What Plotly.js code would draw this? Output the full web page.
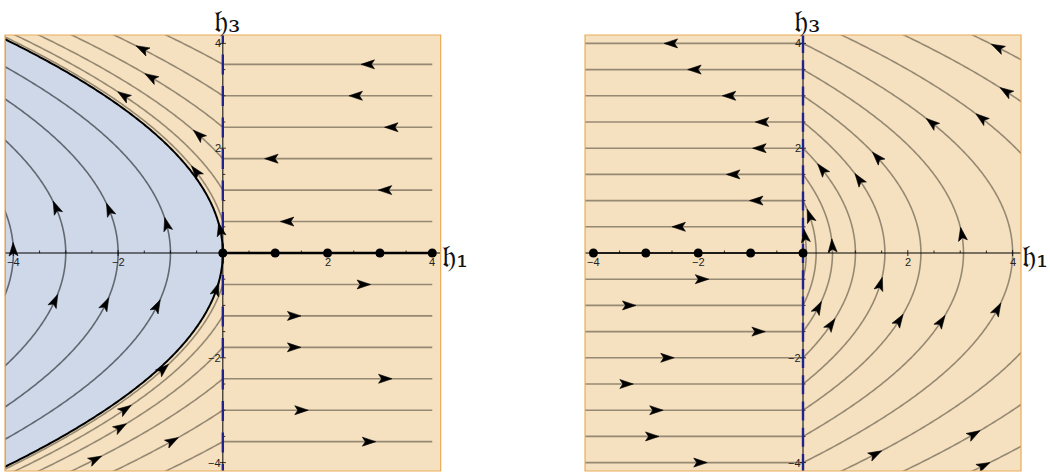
<!DOCTYPE html>
<html>
<head>
<meta charset="utf-8">
<script src="https://cdn.plot.ly/plotly-3.0.1.min.js"></script>
<style>
  html, body { margin: 0; padding: 0; background: #fff; }
  #chart { width: 1050px; height: 473px; }
</style>
</head>
<body>
<div id="chart"></div>
<script>
// Two phase portraits in the (h1, h3) plane.
// Streamlines are the parabolas x = (y0^2 - y^2)/4 and the rows y = y0.

const RANGE = [-4.16, 4.16];

// ---- left panel ----
const leftRows = [3.6, 3.0, 2.4, 1.8, 1.2, 0.6, -0.6, -1.2, -1.8, -2.4, -3.0, -3.6];
const leftRowArrowX = [2.78, 2.55, 3.23, 0.94, 3.11, 1.24, 2.68, 1.35, 1.35, 3.09, 1.49, 2.78];
const leftRowEnd = 4;
const leftInnerVertex = [-1, -2, -3, -4];           // x = c - y^2/4 inside the shaded region
const leftCurveArrows = [                           // [row y0 the arc continues, y]
  [3.0, 3.89], [2.4, 3.35], [1.2, 3.0], [1.8, 2.25], [0.6, 1.55],
  [1.2, -2.985], [1.8, -3.33], [2.4, -3.94], [3.0, -3.59], [0.6, -2.22]
];
const leftBoundaryArrowY = [0.44, -0.70];
const leftInnerArrows = [                           // [c, y]
  [-4, 0.06], [-3, 0.86], [-2, 0.82], [-1, 0.54], [-3, -0.92], [-2, -0.98], [-1, -1.02]
];
const leftFixedX = [0, 1, 2, 3, 4];

// ---- right panel ----
const rightRows = [4.0, 3.5, 3.0, 2.5, 2.0, 1.5, 1.0, 0.5, -0.5, -1.0, -1.5, -2.0, -2.5, -3.0, -3.5, -4.0];
const rightRowArrowX = [-2.51, -2.06, -1.40, -0.77, -0.82, -1.32, -0.88, -2.36,
                        -1.94, -3.33, -0.86, -2.60, -3.38, -2.81, -2.89, -1.97];
const rightArcs = [0.5, 1.0, 1.5, 2.0, 2.5, 3.0, 3.5, 4.0, 4.5, 5.0, 5.5];
const rightArcArrows = [                            // [y0, y]
  [5.5, 3.92], [5.0, 3.08], [4.5, 2.57], [4.0, 2.48], [3.0, 1.82], [2.5, 1.40], [2.0, 1.59],
  [1.0, 0.70], [0.5, 0.32], [1.5, 0.13], [3.5, 0.35],
  [2.5, -0.60], [1.5, -1.05], [2.0, -1.37], [3.0, -1.29], [3.5, -1.31], [4.0, -1.08],
  [4.5, -3.84], [5.0, -3.46], [5.5, -4.06]
];
const rightFixedX = [-4, -3, -2, -1, 0];

// ---- axes decoration ----
const majorTicks = [-4, -2, 2, 4];
const majorLabels = ['\u22124', '\u22122', '2', '4'];
const minorTicks = [-3.5, -3, -2.5, -1.5, -1, -0.5, 0.5, 1, 1.5, 2.5, 3, 3.5];
const axisNames = { horizontal: '\u{1D525}\u2081', vertical: '\u{1D525}\u2083' };

// ---- colours ----
const TAN = 'rgb(245,225,191)';
const BLUE = 'rgb(206,216,232)';
const FRAME = 'rgb(233,172,88)';
const STREAM = 'rgb(150,137,115)';
const STREAM_DARK = 'rgb(98,103,114)';
const NAVY = 'rgb(34,34,140)';

const PX = 52.4; // screen pixels per data unit, equal on both axes

const traces = [];
function line(xs, ys, color, width, ax, dash) {
  traces.push({
    type: 'scatter', mode: 'lines', x: xs, y: ys,
    xaxis: ax[0], yaxis: ax[1],
    line: { color: color, width: width, dash: dash || 'solid', simplify: false },
    hoverinfo: 'skip', showlegend: false
  });
}
// parabola x = c - y^2/4 sampled between y = a and y = b
function arc(c, a, b) {
  const xs = [], ys = [];
  const n = Math.max(2, Math.ceil(Math.abs(b - a) / 0.02));
  for (let i = 0; i <= n; i++) {
    const y = a + (b - a) * i / n;
    xs.push(c - y * y / 4); ys.push(y);
  }
  return [xs, ys];
}
// filled dart-shaped arrowhead centred at (x, y), pointing along (dx, dy)
function dart(store, x, y, dx, dy) {
  const n = Math.hypot(dx, dy), ux = dx / n, uy = dy / n;
  const L = 13.5 / PX, H = 4.5 / PX, N = 3 / PX;
  const tx = x + ux * L * 0.55, ty = y + uy * L * 0.55;
  const bx = x - ux * L * 0.45, by = y - uy * L * 0.45;
  store.x.push(tx, bx - uy * H, bx + ux * N, bx + uy * H, tx, null);
  store.y.push(ty, by + ux * H, by + uy * N, by - ux * H, ty, null);
}
function arrowTrace(store, ax) {
  traces.push({
    type: 'scatter', mode: 'lines', x: store.x, y: store.y,
    xaxis: ax[0], yaxis: ax[1], fill: 'toself', fillcolor: '#000',
    line: { color: '#000', width: 0.6 }, hoverinfo: 'skip', showlegend: false
  });
}
function axesAndTicks(ax) {
  line([RANGE[0], RANGE[1]], [0, 0], '#000', 1, ax);
  line([0, 0], [RANGE[0], RANGE[1]], '#000', 1, ax);
  const tx = [], ty = [], ux = [], uy = [];
  majorTicks.forEach(t => {
    tx.push(t, t, null); ty.push(-3 / PX, 3 / PX, null);
    ux.push(-3 / PX, 3 / PX, null); uy.push(t, t, null);
  });
  minorTicks.forEach(t => {
    tx.push(t, t, null); ty.push(0, 2.5 / PX, null);
    ux.push(0, 2.5 / PX, null); uy.push(t, t, null);
  });
  line(tx, ty, '#000', 0.8, ax);
  line(ux, uy, '#000', 0.8, ax);
}

const AX1 = ['x', 'y'], AX2 = ['x2', 'y2'];

// ===== left panel =====
// shaded region x < -y^2/4
(function () {
  const [bx, by] = arc(0, 4.6, -4.6);
  bx.push(-6, -6); by.push(-4.6, 4.6);
  traces.push({
    type: 'scatter', mode: 'lines', x: bx, y: by, xaxis: 'x', yaxis: 'y',
    fill: 'toself', fillcolor: BLUE, line: { width: 0 }, hoverinfo: 'skip', showlegend: false
  });
})();
// left edge of the shaded region
line([RANGE[0], RANGE[0]], [-2 * Math.sqrt(-RANGE[0]), 2 * Math.sqrt(-RANGE[0])],
     'rgb(120,150,205)', 1.5, AX1);

leftInnerVertex.forEach(c => { const [xs, ys] = arc(c, -4.7, 4.7); line(xs, ys, STREAM_DARK, 1.6, AX1); });
leftRows.forEach(y0 => {
  const [xs, ys] = arc(y0 * y0 / 4, y0, Math.sign(y0) * 4.7);
  line(xs, ys, STREAM, 1.6, AX1);
  line([0, leftRowEnd], [y0, y0], STREAM, 1.6, AX1);
});
axesAndTicks(AX1);
// dashed separatrix on the h3 axis
line([0, 0], [3.6 + 0.19 + 0.6, -4.8], NAVY, 2.4, AX1, '20px,11.5px');
// boundary of the shaded region
(function () { const [xs, ys] = arc(0, -4.7, 4.7); line(xs, ys, '#000', 2, AX1); })();
// line of equilibria
line([leftFixedX[0], leftFixedX[leftFixedX.length - 1]], [0, 0], '#000', 2.4, AX1);
traces.push({
  type: 'scatter', mode: 'markers', x: leftFixedX, y: leftFixedX.map(() => 0),
  xaxis: 'x', yaxis: 'y', marker: { color: '#000', size: 9 }, hoverinfo: 'skip', showlegend: false
});
(function () {
  const s = { x: [], y: [] };
  leftRows.forEach((y0, i) => dart(s, leftRowArrowX[i], y0, -Math.sign(y0), 0));
  leftCurveArrows.forEach(([y0, y]) => dart(s, (y0 * y0 - y * y) / 4, y, -y / 2, 1));
  leftBoundaryArrowY.forEach(y => dart(s, -y * y / 4, y, -y / 2, 1));
  leftInnerArrows.forEach(([c, y]) => dart(s, c - y * y / 4, y, -y / 2, 1));
  arrowTrace(s, AX1);
})();

// ===== right panel =====
rightRows.forEach(y0 => line([-4.4, 0], [y0, y0], STREAM, 1.6, AX2));
rightArcs.forEach(y0 => { const [xs, ys] = arc(y0 * y0 / 4, -y0, y0); line(xs, ys, STREAM, 1.6, AX2); });
axesAndTicks(AX2);
line([0, 0], [4.0 + 0.18, -4.8], NAVY, 2.4, AX2, '19px,7.25px');
line([rightFixedX[0], rightFixedX[rightFixedX.length - 1]], [0, 0], '#000', 1.6, AX2);
traces.push({
  type: 'scatter', mode: 'markers', x: rightFixedX, y: rightFixedX.map(() => 0),
  xaxis: 'x2', yaxis: 'y2', marker: { color: '#000', size: 9 }, hoverinfo: 'skip', showlegend: false
});
(function () {
  const s = { x: [], y: [] };
  rightRows.forEach((y0, i) => dart(s, rightRowArrowX[i], y0, -Math.sign(y0), 0));
  rightArcArrows.forEach(([y0, y]) => dart(s, (y0 * y0 - y * y) / 4, y, -y / 2, 1));
  arrowTrace(s, AX2);
})();

// ---- tick labels and axis names ----
const annotations = [];
const tickFont = { family: 'Liberation Sans, Arial, sans-serif', size: 11, color: '#222' };
const titleFont = { family: 'DejaVu Serif, Liberation Serif, serif', size: 31, color: '#111' };
[['x', 'y'], ['x2', 'y2']].forEach(([xr, yr]) => {
  majorTicks.forEach((t, i) => {
    annotations.push({ xref: xr, yref: yr, x: t, y: 0, text: majorLabels[i], showarrow: false,
      xanchor: 'center', yanchor: 'top', yshift: -1, font: tickFont });
    annotations.push({ xref: xr, yref: yr, x: 0, y: t, text: majorLabels[i], showarrow: false,
      xanchor: 'right', yanchor: 'middle', xshift: 0, font: tickFont });
  });
  annotations.push({ xref: xr, yref: yr + ' domain', x: 0, y: 1, text: axisNames.vertical,
    showarrow: false, xanchor: 'center', yanchor: 'bottom', yshift: -5, xshift: 4,
    borderpad: 0, font: titleFont });
  annotations.push({ xref: xr + ' domain', yref: yr, x: 1, y: 0, text: axisNames.horizontal,
    showarrow: false, xanchor: 'left', yanchor: 'middle', xshift: 0, yshift: -3,
    borderpad: 0, font: titleFont });
});

const axisBase = {
  range: RANGE, showgrid: false, zeroline: false, showticklabels: false,
  ticks: '', showline: false, fixedrange: true
};
const frame = (xr, yr) => ({
  type: 'rect', xref: xr + ' domain', yref: yr + ' domain', x0: 0, x1: 1, y0: 0, y1: 1,
  line: { color: FRAME, width: 1.2 }, layer: 'above'
});

const layout = {
  width: 1050, height: 473,
  margin: { l: 5, r: 29, t: 35, b: 2 },
  paper_bgcolor: '#fff', plot_bgcolor: TAN,
  showlegend: false, hovermode: false,
  xaxis: Object.assign({}, axisBase, { domain: [0, 0.4288], anchor: 'y' }),
  yaxis: Object.assign({}, axisBase, { domain: [0, 1], anchor: 'x' }),
  xaxis2: Object.assign({}, axisBase, { domain: [0.5709, 1], anchor: 'y2' }),
  yaxis2: Object.assign({}, axisBase, { domain: [0, 1], anchor: 'x2' }),
  shapes: [frame('x', 'y'), frame('x2', 'y2')],
  annotations: annotations
};

Plotly.newPlot('chart', traces, layout, { staticPlot: true, displayModeBar: false });
</script>
</body>
</html>
